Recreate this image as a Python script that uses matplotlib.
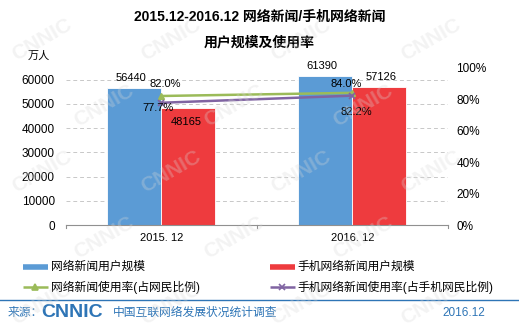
import numpy as np
import matplotlib.pyplot as plt
from matplotlib.lines import Line2D

plt.rcParams['font.family'] = ['Liberation Sans', 'Noto Sans CJK SC', 'DejaVu Sans']

periods = ['2015. 12', '2016. 12']
news_users = [56440, 61390]
mobile_news_users = [48165, 57126]
news_rate = [0.820, 0.840]
mobile_news_rate = [0.777, 0.822]

blue = '#5B9BD5'
red = '#EE3B3E'
green = '#9BBB59'
purple = '#8064A2'
footer_blue = '#2E75B6'

fig = plt.figure(figsize=(5.19, 3.30), dpi=100)

ax = fig.add_axes([0.127, 0.318, 0.736, 0.477])
ax.patch.set_alpha(0)
x = np.arange(len(periods))
w = 0.283

ax.bar(x - w / 2, news_users, w, color=blue, edgecolor='white', linewidth=0.6, zorder=2)
ax.bar(x + w / 2, mobile_news_users, w, color=red, edgecolor='white', linewidth=0.6, zorder=2)

ax.set_xlim(-0.5, 1.5)
ax.set_ylim(0, 65000)
ax.set_yticks(range(0, 60001, 10000))
ax.set_xticks(x)
ax.set_xticklabels(periods, fontsize=8)
ax.tick_params(axis='y', length=0, labelsize=8.5, pad=8)
ax.tick_params(axis='x', length=0, pad=6)
ax.grid(axis='y', linestyle=(0, (4, 3)), color='#c8c8c8', linewidth=0.7, zorder=0)
for s in ['top', 'right', 'left']:
    ax.spines[s].set_visible(False)
ax.spines['bottom'].set_color('#909090')
ax.spines['bottom'].set_linewidth(0.8)
for xt in [-0.5, 0.5, 1.5]:
    ax.plot([xt, xt], [0, -1200], color='#909090', lw=0.8, clip_on=False)

# value labels for the bars
for xi, v in zip(x, news_users):
    ax.text(xi - w / 2 - 0.02, v + 4200, str(v), fontsize=8, ha='center', va='center')
ax.text(x[0] + w / 2 - 0.01, mobile_news_users[0] - 5500, str(mobile_news_users[0]),
        fontsize=8, ha='center', va='center')
ax.text(x[1] + w / 2 + 0.01, mobile_news_users[1] + 3900, str(mobile_news_users[1]),
        fontsize=8, ha='center', va='center')

ax2 = ax.twinx()
ax2.set_ylim(0, 1.0)
ax2.set_yticks(np.linspace(0, 1, 6))
ax2.set_yticklabels([f'{int(t * 100)}%' for t in np.linspace(0, 1, 6)])
ax2.tick_params(axis='y', length=0, labelsize=8.5, pad=6)
for s in ax2.spines.values():
    s.set_visible(False)

ax2.plot(x, news_rate, color=green, lw=1.8, marker='^', ms=5, zorder=4)
ax2.plot(x, mobile_news_rate, color=purple, lw=1.8, marker='x', ms=5, mew=1.2, zorder=4)

offs_green = [(-0.06, 0.075), (-0.115, 0.055)]
offs_purple = [(-0.097, -0.035), (-0.063, -0.105)]
for xi, v, (dx, dy) in zip(x, news_rate, offs_green):
    ax2.text(xi + dx, v + dy, f'{v * 100:.1f}%', fontsize=8, ha='left', va='center', zorder=5)
for xi, v, (dx, dy) in zip(x, mobile_news_rate, offs_purple):
    ax2.text(xi + dx, v + dy, f'{v * 100:.1f}%', fontsize=8, ha='left', va='center', zorder=5)

fig.text(0.5, 0.948, '2015.12-2016.12 网络新闻/手机网络新闻', fontsize=10, fontweight='bold',
         ha='center', va='center')
fig.text(0.5, 0.870, '用户规模及使用率', fontsize=10, fontweight='bold', ha='center', va='center')
fig.text(0.054, 0.830, '万人', fontsize=8, ha='left', va='center')

# legend rows
def legend_entry(xp, yp, color, label, marker=None, patch=False):
    if patch:
        fig.add_artist(Line2D([xp, xp + 0.048], [yp, yp], color=color, lw=4,
                              solid_capstyle='butt', transform=fig.transFigure))
    else:
        fig.add_artist(Line2D([xp, xp + 0.048], [yp, yp], color=color, lw=1.8,
                              solid_capstyle='butt', transform=fig.transFigure))
        fig.add_artist(Line2D([xp + 0.024], [yp], color=color, marker=marker, ms=5,
                              mew=1.2, lw=0, transform=fig.transFigure))
    fig.text(xp + 0.054, yp, label, fontsize=8.5, ha='left', va='center')

legend_entry(0.044, 0.191, blue, '网络新闻用户规模', patch=True)
legend_entry(0.520, 0.191, red, '手机网络新闻用户规模', patch=True)
legend_entry(0.044, 0.130, green, '网络新闻使用率(占网民比例)', marker='^')
legend_entry(0.520, 0.130, purple, '手机网络新闻使用率(占手机网民比例)', marker='x')

# footer
fig.add_artist(Line2D([0, 1], [0.091, 0.091], color=footer_blue, lw=1.0,
                      transform=fig.transFigure))
fig.text(0.015, 0.052, '来源：', fontsize=8.5, color=footer_blue, ha='left', va='center')
fig.text(0.080, 0.052, 'CNNIC', fontsize=14, fontweight='bold', color=footer_blue,
         ha='left', va='center')
fig.text(0.218, 0.052, '中国互联网络发展状况统计调查', fontsize=8.5, color=footer_blue,
         ha='left', va='center')
fig.text(0.935, 0.052, '2016.12', fontsize=8.5, color=footer_blue, ha='right', va='center')

# faint CNNIC watermark laid over the whole figure
for row, wy in enumerate(np.arange(0.08, 0.95, 0.2)):
    for wx in np.arange(0.08 + 0.12 * (row % 2), 0.95, 0.25):
        fig.text(wx, wy, 'CNNIC', fontsize=15, fontweight='bold', color='#d8d8d8',
                 alpha=0.3, rotation=30, ha='center', va='center', zorder=10)

fig.savefig('out.png', dpi=100)
